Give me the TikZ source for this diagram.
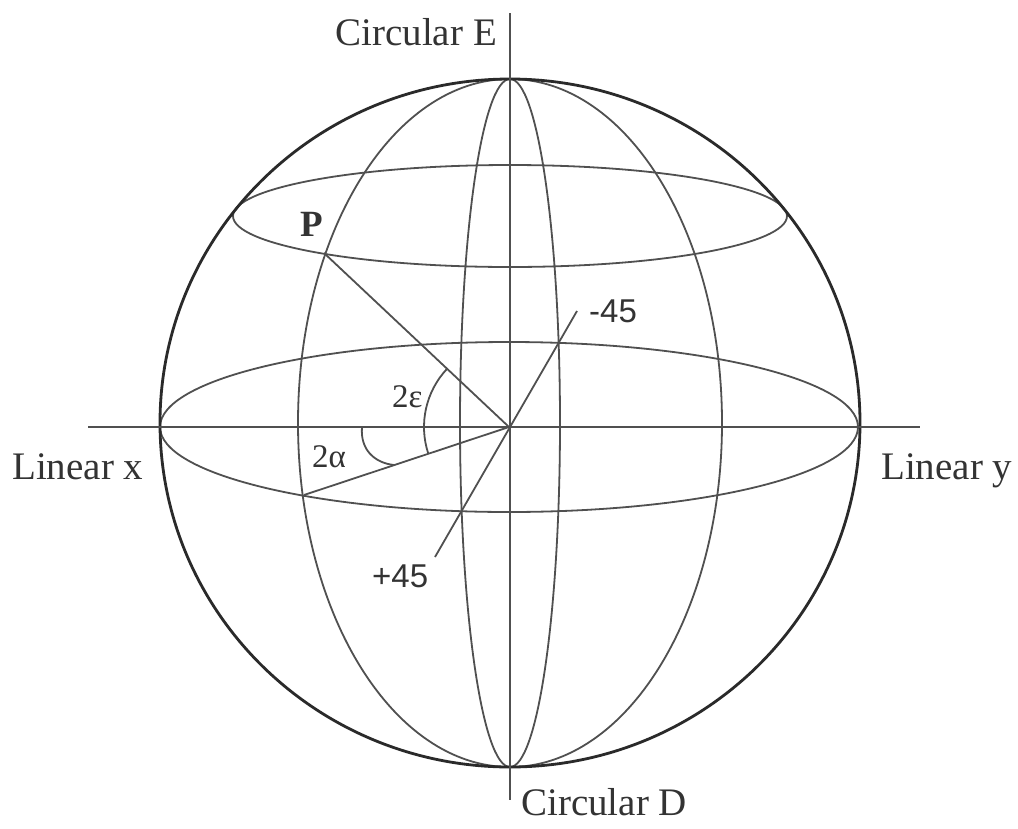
\documentclass[tikz,border=0pt]{standalone}
\usepackage{fontspec}
\setmainfont{Liberation Serif}
\newfontfamily\sansf{Liberation Sans}
\definecolor{linegray}{HTML}{505050}
\definecolor{darkline}{HTML}{2A2A2A}
\definecolor{txt}{HTML}{333333}
\begin{document}
\begin{tikzpicture}[x=1pt,y=-1pt,
  outer/.style={draw=darkline,line width=2.8pt},
  guide/.style={draw=linegray,line width=1.8pt},
  lbl/.style={text=txt,inner sep=0pt,font=\fontsize{39}{42}\selectfont},
  num/.style={text=txt,inner sep=0pt,font=\sansf\fontsize{33}{36}\selectfont}]
\useasboundingbox[fill=white] (0,0) rectangle (1018,828);
% key points
\coordinate (C) at (510,423);
\coordinate (O) at (509,427);
\coordinate (L) at (510,216);
\coordinate (P) at (324,253);
\coordinate (A) at (304,495);
\coordinate (Mm) at (577,311);
\coordinate (Mp) at (435,557);
\coordinate (HL) at (88,427);
\coordinate (HR) at (920,427);
\coordinate (VT) at (510,13);
\coordinate (VB) at (510,800);
\coordinate (Aa) at (362,427);
\coordinate (Ab) at (394,465);
% sphere
\draw[guide] (O) ellipse[x radius=349pt,y radius=85pt];
\draw[guide] (L) ellipse[x radius=277pt,y radius=51pt];
\draw[guide] (C) ellipse[x radius=212pt,y radius=344pt];
\draw[guide] (C) ellipse[x radius=50pt,y radius=344pt];
\draw[outer] (C) ellipse[x radius=350pt,y radius=344pt];
% axes
\draw[guide] (HL) -- (HR);
\draw[guide] (VT) -- (VB);
% radii
\draw[guide] (O) -- (P);
\draw[guide] (O) -- (A);
\draw[guide] (Mm) -- (Mp);
% angle arcs
\draw[guide] (O) ++(137:85pt) arc[start angle=137,end angle=198,radius=85pt];
\draw[guide] (Aa) .. controls (360,450) and (375,463) .. (Ab);
% labels
\node[lbl,anchor=base east] (lE) at (497,45) {Circular E};
\node[lbl,anchor=base west] (lD) at (521,815) {Circular D};
\node[lbl,anchor=base west] (lx) at (12,479) {Linear x};
\node[lbl,anchor=base west] (ly) at (881,479) {Linear y};
\node[lbl,anchor=base,font=\bfseries\fontsize{37}{40}\selectfont] (lP) at (312,236) {P};
\node[lbl,anchor=base west,font=\fontsize{33}{36}\selectfont] (le) at (392,407) {2ε};
\node[lbl,anchor=base west,font=\fontsize{33}{36}\selectfont] (la) at (312,467) {2α};
\node[num,anchor=base west] (lm) at (589,322) {-45};
\node[num,anchor=base west] (lp) at (372,587) {+45};
\end{tikzpicture}
\end{document}
